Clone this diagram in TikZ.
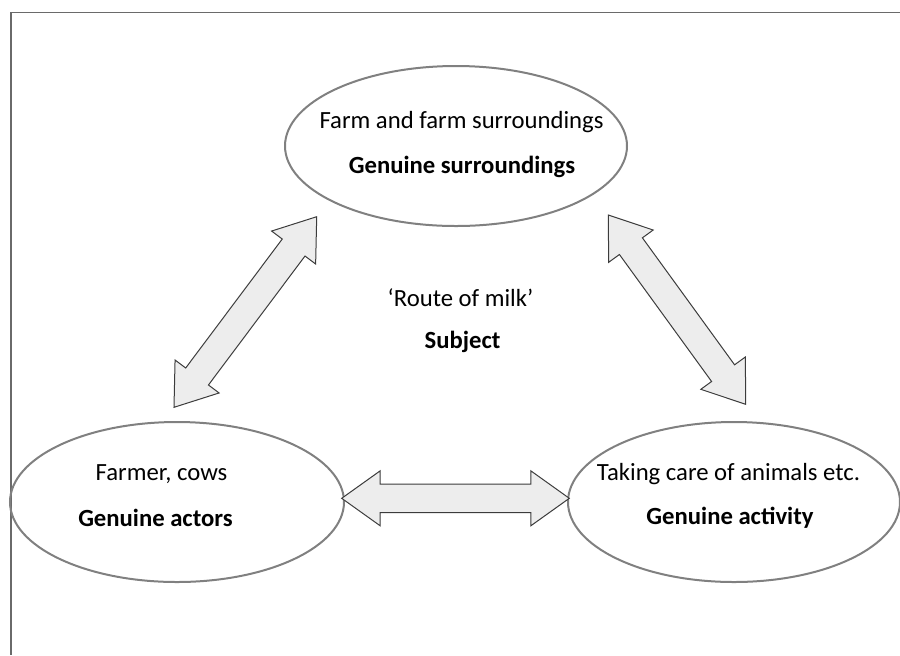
\documentclass[tikz,border=0pt]{standalone}
\usepackage{fontspec}
\setmainfont{Carlito}
\usetikzlibrary{shapes.geometric,calc}
\definecolor{framegray}{HTML}{6A6A6A}
\definecolor{ellgray}{HTML}{808080}
\definecolor{arrowfill}{HTML}{EDEDED}
\definecolor{arrowline}{HTML}{3C3C3C}
\tikzset{
  ell/.style={ellipse, draw=ellgray, line width=1pt, inner sep=0pt, minimum height=80pt},
  txt/.style={inner sep=0pt, font=\fontsize{12.35pt}{15pt}\selectfont},
  btxt/.style={txt, font=\fontsize{12.35pt}{15pt}\selectfont\bfseries},
  framestyle/.style={draw=framegray, line width=0.65pt},
  blockarrow/.style={fill=arrowfill, draw=arrowline, line width=0.5pt, line join=miter}
}
\newcommand\dblarrow[2]{%
  \draw[blockarrow] (#1)
    -- ($(#1)!19.25pt!(#2)!13.75pt!90:(#2)$)
    -- ($(#1)!19.25pt!(#2)!7.1pt!90:(#2)$)
    -- ($(#2)!19.25pt!(#1)!7.1pt!-90:(#1)$)
    -- ($(#2)!19.25pt!(#1)!13.75pt!-90:(#1)$)
    -- (#2)
    -- ($(#2)!19.25pt!(#1)!13.75pt!90:(#1)$)
    -- ($(#2)!19.25pt!(#1)!7.1pt!90:(#1)$)
    -- ($(#1)!19.25pt!(#2)!7.1pt!-90:(#2)$)
    -- ($(#1)!19.25pt!(#2)!13.75pt!-90:(#2)$)
    -- cycle;%
}
\begin{document}
\begin{tikzpicture}[x=0.5pt, y=-0.5pt]
  \useasboundingbox (0,0) rectangle (900,655);
  % frame (open on right and bottom)
  \coordinate (fTR) at (900,12.7);
  \coordinate (fTL) at (11,12.7);
  \coordinate (fBL) at (11,655);
  \draw[framestyle] (fTR) -- (fTL) -- (fBL);

  % ellipses
  \node[ell, minimum width=171pt] (top) at (456,146) {};
  \node[ell, minimum width=167pt] (left) at (177,502) {};
  \node[ell, minimum width=166pt] (right) at (734,502) {};

  % texts
  \node[txt]  (t1) at (461.5,122) {Farm and farm surroundings};
  \node[btxt] (t2) at (462,167) {Genuine surroundings};
  \node[txt]  (l1) at (161.5,474) {Farmer, cows};
  \node[btxt] (l2) at (155.5,518) {Genuine actors};
  \node[txt]  (r1) at (728.5,474) {Taking care of animals etc.};
  \node[btxt] (r2) at (730,518) {Genuine activity};
  \node[txt]  (c1) at (460.5,298) {‘Route of milk’};
  \node[btxt] (c2) at (462.5,342) {Subject};

  % arrow tips
  \coordinate (a1s) at (316.7,216.7);
  \coordinate (a1e) at (174,407.3);
  \coordinate (a2s) at (608.3,215);
  \coordinate (a2e) at (745.7,404.3);
  \coordinate (a3s) at (341.7,498.3);
  \coordinate (a3e) at (569.3,498.3);
  \dblarrow{a1s}{a1e}
  \dblarrow{a2s}{a2e}
  \dblarrow{a3s}{a3e}
\end{tikzpicture}
\end{document}
